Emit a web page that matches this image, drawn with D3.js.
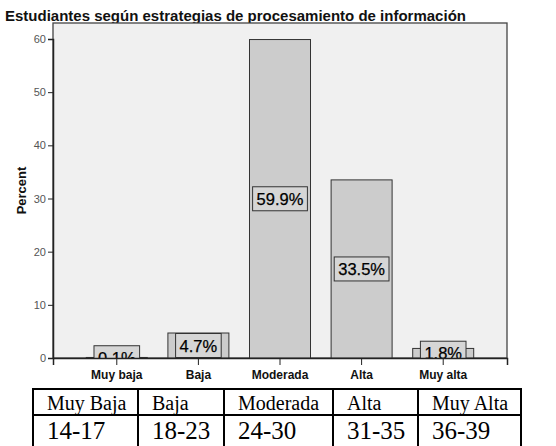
<!DOCTYPE html>
<html><head><meta charset="utf-8">
<script src="https://cdn.jsdelivr.net/npm/d3@7"></script>
<style>
html,body{margin:0;padding:0;background:#fff;}
svg{display:block;}
</style></head>
<body>
<svg id="chart" width="556" height="446"></svg>
<script>
const categories = ["Muy baja","Baja","Moderada","Alta","Muy alta"];
const percents = [0.1, 4.7, 59.9, 33.5, 1.8];
const yTicks = [0,10,20,30,40,50,60];
const title = "Estudiantes según estrategias de procesamiento de información";
const yTitle = "Percent";
const tableHeader = ["Muy Baja","Baja","Moderada","Alta","Muy Alta"];
const tableRanges = ["14-17","18-23","24-30","31-35","36-39"];

const svg = d3.select("#chart");
const L = 53, R = 507, T = 23, B = 358;

const x = d3.scaleBand().domain(categories).range([L, R]).paddingInner(0.2525).paddingOuter(0.408);
const y = d3.scaleLinear().domain([0, 60]).range([B, 39]);

// title (drawn first, plot frame overlaps descenders)
svg.append("text").attr("x", 5).attr("y", 20.5)
  .attr("font-family", "Arial, 'Liberation Sans', sans-serif")
  .attr("font-weight", "bold").attr("font-size", 15).attr("fill", "#111")
  .text(title);

// plot background
svg.append("rect").attr("x", L).attr("y", T).attr("width", R - L).attr("height", B - T)
  .attr("fill", "#f0f0f0").attr("stroke", "#444").attr("stroke-width", 1.3);

svg.append("defs").append("clipPath").attr("id", "plotclip")
  .append("rect").attr("x", L).attr("y", T).attr("width", R - L).attr("height", B - T);

const g = svg.append("g").attr("clip-path", "url(#plotclip)");

const data = categories.map((c, i) => ({c, v: percents[i]}));

g.selectAll("rect.bar").data(data).join("rect").attr("class", "bar")
  .attr("x", d => x(d.c)).attr("width", x.bandwidth())
  .attr("y", d => y(d.v)).attr("height", d => B - y(d.v))
  .attr("fill", "#cccccc").attr("stroke", "#333").attr("stroke-width", 1);

// labels
const lg = g.selectAll("g.lbl").data(data).join("g").attr("class", "lbl");
lg.each(function(d) {
  const gg = d3.select(this);
  const cx = x(d.c) + x.bandwidth() / 2;
  const cy = (y(d.v) + B) / 2;
  const rect = gg.append("rect");
  const t = gg.append("text").attr("x", cx).attr("y", cy + 6)
    .attr("text-anchor", "middle")
    .attr("font-family", "Arial, 'Liberation Sans', sans-serif")
    .attr("font-size", 16.5).attr("fill", "#000")
    .attr("stroke", "#000").attr("stroke-width", 0.25)
    .text(d.v.toFixed(1) + "%");
  const w = t.node().getComputedTextLength() + 8;
  rect.attr("x", cx - w / 2).attr("y", cy - 12).attr("width", w).attr("height", 24)
    .attr("fill", "#d6d6d6").attr("stroke", "#333").attr("stroke-width", 1);
});

// y axis
const yAxis = svg.append("g").attr("transform", `translate(${L},0)`)
  .call(d3.axisLeft(y).tickValues(yTicks).tickSize(5).tickPadding(2));
yAxis.select(".domain").attr("stroke", "#222").attr("stroke-width", 1.5);
yAxis.selectAll(".tick line").attr("stroke", "#222");
yAxis.selectAll(".tick text").attr("fill", "#555")
  .attr("font-family", "Arial, 'Liberation Sans', sans-serif").attr("font-size", 11);

// x axis
const xAxis = svg.append("g").attr("transform", `translate(0,${B})`)
  .call(d3.axisBottom(x).tickSize(7).tickPadding(5));
xAxis.select(".domain").attr("stroke", "#222").attr("stroke-width", 1.5);
xAxis.selectAll(".tick line").attr("stroke", "#222");
xAxis.selectAll(".tick text").attr("fill", "#111")
  .attr("font-family", "Arial, 'Liberation Sans', sans-serif")
  .attr("font-weight", "bold").attr("font-size", 12);

// y title
svg.append("text").attr("transform", `translate(26,${(T + B) / 2}) rotate(-90)`)
  .attr("text-anchor", "middle")
  .attr("font-family", "Arial, 'Liberation Sans', sans-serif")
  .attr("font-weight", "bold").attr("font-size", 13).attr("fill", "#111")
  .text(yTitle);

// table
const colX = [33, 138, 224, 333, 418, 521];
const rowY = [389, 415, 447];
const tg = svg.append("g");
tg.append("rect").attr("x", colX[0]).attr("y", rowY[0]).attr("width", colX[5] - colX[0])
  .attr("height", rowY[2] - rowY[0]).attr("fill", "#fff").attr("stroke", "#000").attr("stroke-width", 2);
tg.append("line").attr("x1", colX[0]).attr("x2", colX[5]).attr("y1", rowY[1]).attr("y2", rowY[1])
  .attr("stroke", "#000").attr("stroke-width", 2);
tg.selectAll("line.col").data(colX.slice(1, 5)).join("line").attr("class", "col")
  .attr("x1", d => d).attr("x2", d => d).attr("y1", rowY[0]).attr("y2", rowY[2])
  .attr("stroke", "#000").attr("stroke-width", 2);
tg.selectAll("text.h").data(tableHeader).join("text").attr("class", "h")
  .attr("x", (d, i) => colX[i] + 14).attr("y", 410)
  .attr("font-family", "'Liberation Serif', 'Times New Roman', serif").attr("font-size", 20).attr("fill", "#000")
  .text(d => d);
tg.selectAll("text.r").data(tableRanges).join("text").attr("class", "r")
  .attr("x", (d, i) => colX[i] + 14).attr("y", 439)
  .attr("font-family", "'Liberation Serif', 'Times New Roman', serif").attr("font-size", 25).attr("fill", "#000")
  .text(d => d);
</script>
</body></html>
